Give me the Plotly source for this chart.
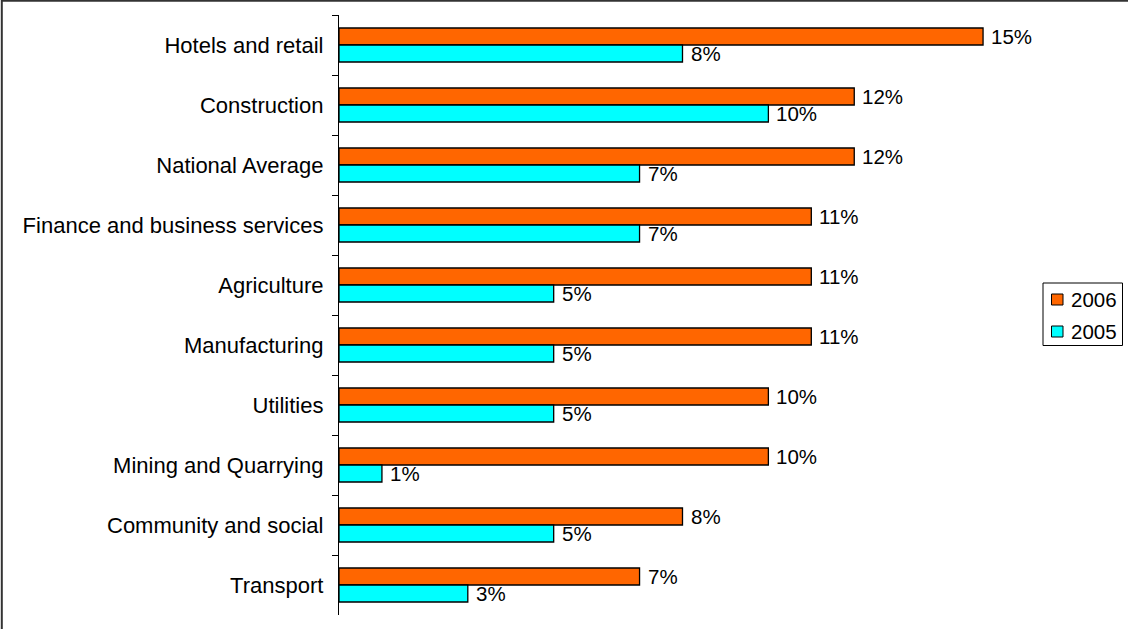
import plotly.graph_objects as go

# Sector growth, 2005 vs 2006 (percent)
categories = [
    "Hotels and retail",
    "Construction",
    "National Average",
    "Finance and business services",
    "Agriculture",
    "Manufacturing",
    "Utilities",
    "Mining and Quarrying",
    "Community and social",
    "Transport",
]
values_2006 = [15, 12, 12, 11, 11, 11, 10, 10, 8, 7]
values_2005 = [8, 10, 7, 7, 5, 5, 5, 1, 5, 3]
series_names = ["2006", "2005"]
series_colors = ["#FF6600", "#00FFFF"]

W, H = 1128, 629
ML, MR, MT, MB = 339, 102, 15, 14
PW, PH = W - ML - MR, H - MT - MB
FONT = "Liberation Sans, Arial, sans-serif"


def px_to_paper_x(px):
    return (px - ML) / PW


def px_to_paper_y(py):
    return (H - MB - py) / PH


fig = go.Figure()
for name, vals, color in zip(series_names, [values_2006, values_2005], series_colors):
    fig.add_trace(go.Bar(
        name=name, y=categories, x=vals, orientation="h",
        marker=dict(color=color, line=dict(color="#000000", width=1.3)),
        showlegend=False,
    ))

# value labels just past the end of each bar
annotations = []
for cat, v6, v5 in zip(categories, values_2006, values_2005):
    for val, shift in ((v6, 8.5), (v5, -8.5)):
        annotations.append(dict(
            x=val, y=cat, xref="x", yref="y", text=f"{val}%",
            showarrow=False, xanchor="left", yanchor="middle",
            xshift=6, yshift=shift,
            font=dict(family=FONT, size=20.5, color="#000000"),
        ))

# boxed key at the right
shapes = [
    dict(type="rect", xref="paper", yref="paper",
         x0=px_to_paper_x(1043), x1=px_to_paper_x(1122.5),
         y0=px_to_paper_y(283), y1=px_to_paper_y(345.5),
         line=dict(color="#000000", width=1), fillcolor="white", layer="below"),
]
for i, (name, color) in enumerate(zip(series_names, series_colors)):
    cy = 299.5 + i * 32
    shapes.append(dict(
        type="rect", xref="paper", yref="paper",
        x0=px_to_paper_x(1051.5), x1=px_to_paper_x(1063),
        y0=px_to_paper_y(cy - 5.5), y1=px_to_paper_y(cy + 5.5),
        line=dict(color="#000000", width=1), fillcolor=color,
    ))
    annotations.append(dict(
        x=px_to_paper_x(1069), y=px_to_paper_y(cy), xref="paper", yref="paper",
        text=name, showarrow=False, xanchor="left", yanchor="middle",
        font=dict(family=FONT, size=20.5, color="#000000"),
    ))

# outer frame edges (top and left)
shapes += [
    dict(type="line", xref="paper", yref="paper",
         x0=px_to_paper_x(1.5), x1=px_to_paper_x(W + 5),
         y0=px_to_paper_y(0.8), y1=px_to_paper_y(0.8),
         line=dict(color="#333333", width=2)),
    dict(type="line", xref="paper", yref="paper",
         x0=px_to_paper_x(1.8), x1=px_to_paper_x(1.8),
         y0=px_to_paper_y(0), y1=px_to_paper_y(H + 5),
         line=dict(color="#333333", width=2)),
]

fig.update_layout(
    width=W, height=H,
    margin=dict(l=ML, r=MR, t=MT, b=MB, pad=0, autoexpand=False),
    paper_bgcolor="white", plot_bgcolor="white",
    barmode="group", bargap=0.433, bargroupgap=0,
    font=dict(family=FONT, size=20, color="#000000"),
    xaxis=dict(range=[0, 16], visible=False, showgrid=False, zeroline=False),
    yaxis=dict(
        autorange="reversed", type="category",
        showline=True, linecolor="#000000", linewidth=1.3,
        ticks="outside", tickson="boundaries", ticklen=6,
        tickcolor="#000000", tickwidth=1.3,
        ticklabelstandoff=10, showgrid=False, zeroline=False,
        tickfont=dict(family=FONT, size=22, color="#000000"),
    ),
    annotations=annotations,
    shapes=shapes,
    showlegend=False,
)

fig.write_html("out.html")
